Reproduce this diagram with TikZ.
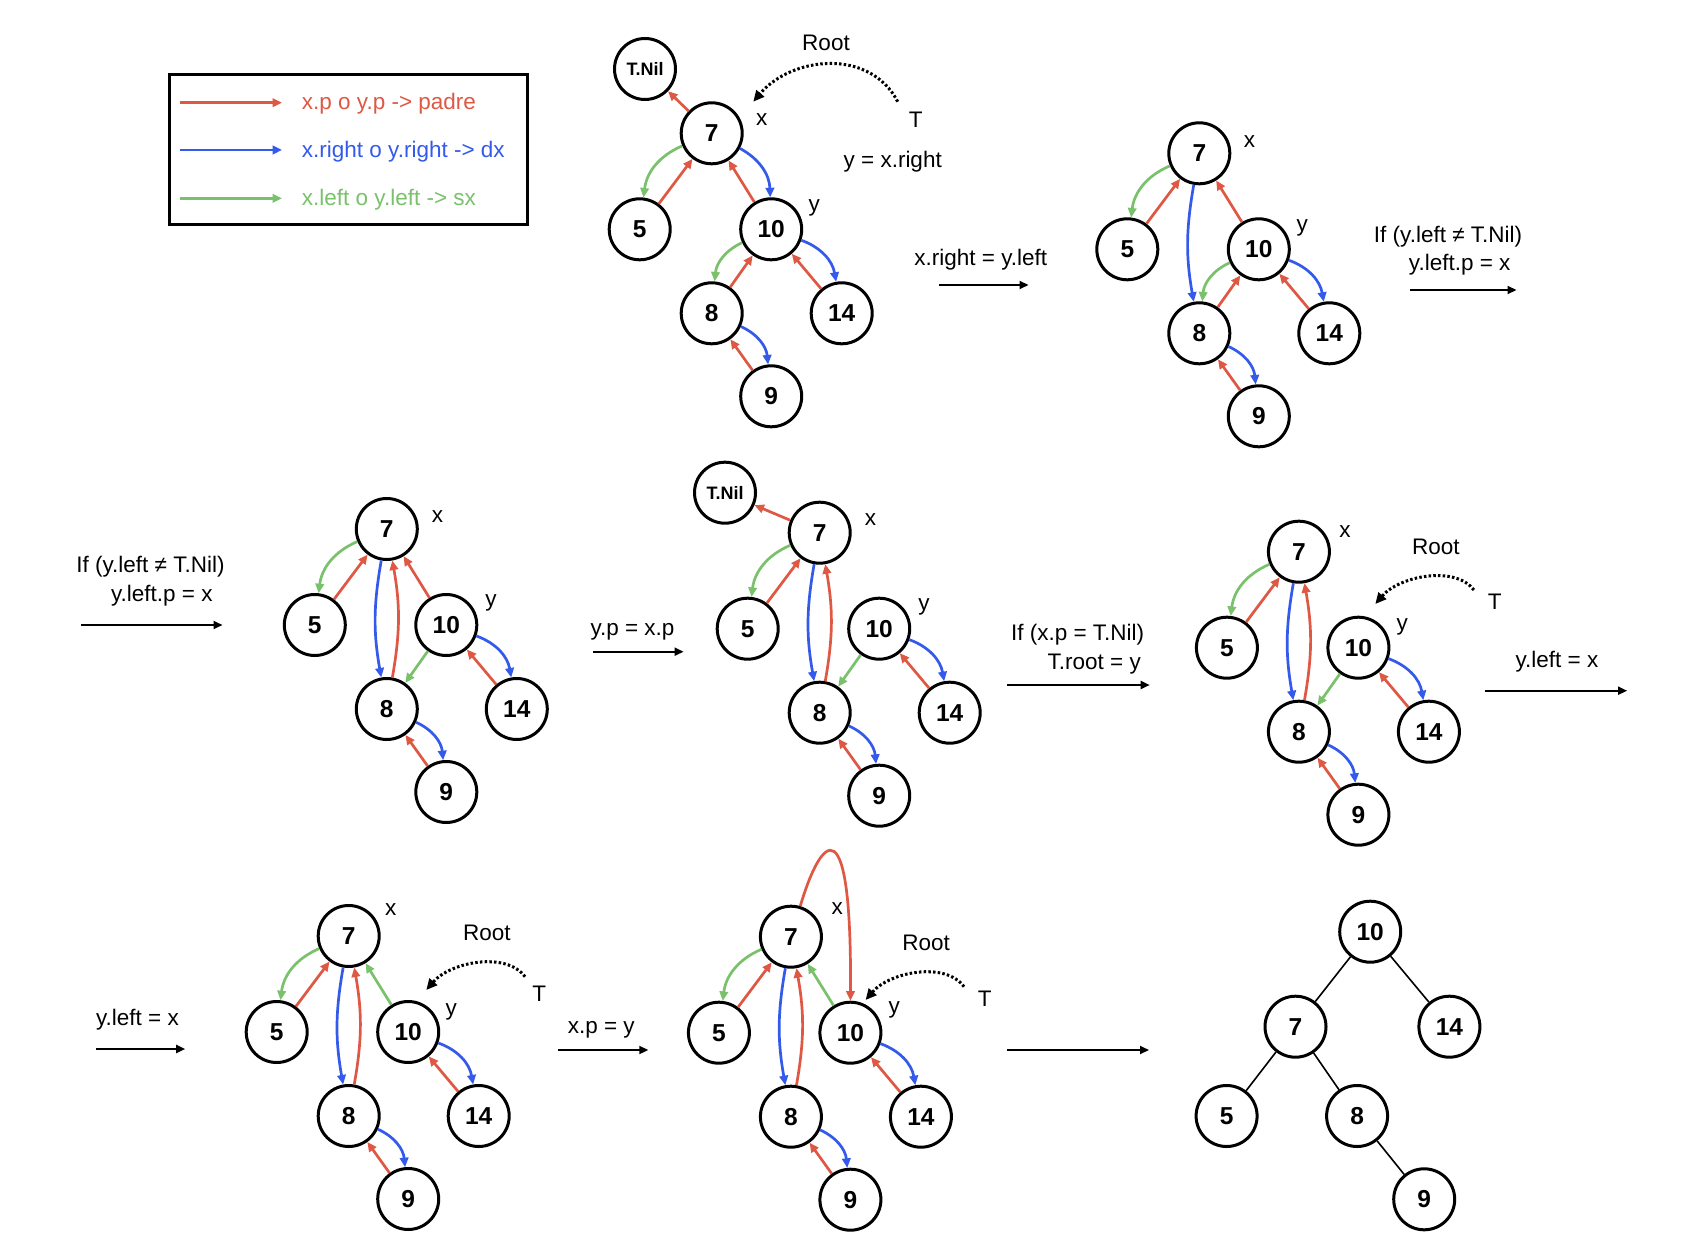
\documentclass[tikz,border=0pt]{standalone}
\usepackage{fontspec}
\setmainfont{Liberation Sans}
\usetikzlibrary{arrows.meta,calc}
\definecolor{cred}{RGB}{222,88,68}
\definecolor{cblue}{RGB}{52,90,235}
\definecolor{cgreen}{RGB}{122,193,108}
\newcommand\lblfont{\fontsize{22.5}{27}\selectfont}
\newcommand\ndfont{\fontsize{24.5}{28}\selectfont\bfseries}
\newcommand\nilfont{\fontsize{18}{21}\selectfont\bfseries}
\newcommand\mktree[3]{%
\begin{scope}[shift={(#2,#3)}]
\node[nd] (#17) at (0,0) {7};
\node[nd] (#15) at (-72,96) {5};
\node[nd] (#110) at (59.5,96) {10};
\node[nd] (#18) at (0,180) {8};
\node[nd] (#114) at (130,180) {14};
\node[nd] (#19) at (59.5,263) {9};
\end{scope}}
\tikzset{
 nd/.style={circle, draw=black, line width=3pt, minimum size=61pt, inner sep=0pt, font=\ndfont},
 rd/.style={draw=cred, line width=2.7pt, -{Triangle[length=9.5pt,width=8.5pt]}},
 bl/.style={draw=cblue, line width=2.7pt, -{Triangle[length=9.5pt,width=8.5pt]}},
 gr/.style={draw=cgreen, line width=2.7pt, -{Triangle[length=9.5pt,width=8.5pt]}},
 tr/.style={draw=black, line width=2pt, -{Triangle[length=9pt,width=8pt]}},
 dt/.style={draw=black, line width=3pt, dash pattern=on 2.5pt off 2.2pt, -{Triangle[length=11pt,width=10pt]}},
 lab/.style={font=\lblfont, inner sep=0pt, text=black},
 plain/.style={draw=black, line width=1.6pt},
}
\begin{document}
\begin{tikzpicture}[x=1pt,y=-1pt]
\fill[white] (0,0) rectangle (1708,1246);
\useasboundingbox (0,0) rectangle (1708,1246);

% ---------- legend ----------
\node[draw=black, line width=3pt, minimum width=358pt, minimum height=149.7pt, inner sep=0pt] (legend) at (348.8,149.7) {};
\coordinate (l1a) at (180,102.7); \coordinate (l1b) at (282,102.7);
\coordinate (l2a) at (180,150); \coordinate (l2b) at (282,150);
\coordinate (l3a) at (180,198.3); \coordinate (l3b) at (282,198.3);
\draw[rd] (l1a) -- (l1b);
\draw[bl] (l2a) -- (l2b);
\draw[gr] (l3a) -- (l3b);
\node[lab, anchor=west, text=cred] (l1t) at (301.7,104) {x.p o y.p -> padre};
\node[lab, anchor=west, text=cblue] (l2t) at (301.7,151.5) {x.right o y.right -> dx};
\node[lab, anchor=west, text=cgreen] (l3t) at (301.7,200) {x.left o y.left -> sx};

% ---------- tree A ----------
\mktree{a}{711.7}{133.3}
\node[nd, font=\nilfont] (anil) at (645,69) {T.Nil};
\draw[rd] (a7) -- (anil);
\draw[gr] (a7) to[bend right=30] (a5);
\draw[rd] (a5) -- (a7);
\draw[bl] (a7) to[bend left=30] (a10);
\draw[rd] (a10) -- (a7);
\draw[gr] (a10) to[bend right=30] (a8);
\draw[rd] (a8) -- (a10);
\draw[bl] (a10) to[bend left=30] (a14);
\draw[rd] (a14) -- (a10);
\draw[bl] (a8) to[bend left=30] (a9);
\draw[rd] (a9) -- (a8);
\node[lab] (ax) at (761.7,120) {x};
\node[lab] (ay) at (814.3,208.3) {y};
\node[lab] (aroot) at (826,43.3) {Root};
\node[lab] (aT) at (915.7,119.3) {T};
\coordinate (aTs) at (897.7,101.7); \coordinate (aTe) at (753.3,101.7);
\draw[dt] (aTs) .. controls (870,48) and (792,56) .. (aTe);
\node[lab] (ayx) at (892.7,161.7) {y = x.right};

\node[lab] (t1l) at (980.8,259.3) {x.right = y.left};
\coordinate (t1a) at (939.4,285); \coordinate (t1b) at (1028.5,285);
\draw[tr] (t1a) -- (t1b);

% ---------- tree B ----------
\mktree{b}{1199.3}{153.3}
\draw[gr] (b7) to[bend right=30] (b5);
\draw[rd] (b5) -- (b7);
\draw[bl] (b7) to[bend right=10] (b8);
\draw[rd] (b10) -- (b7);
\draw[gr] (b10) to[bend right=30] (b8);
\draw[rd] (b8) -- (b10);
\draw[bl] (b10) to[bend left=30] (b14);
\draw[rd] (b14) -- (b10);
\draw[bl] (b8) to[bend left=30] (b9);
\draw[rd] (b9) -- (b8);
\node[lab] (bx) at (1249.5,141.7) {x};
\node[lab] (by) at (1302.2,227.7) {y};

\node[lab] (t2l1) at (1448,236.7) {If (y.left ≠ T.Nil)};
\node[lab] (t2l2) at (1459.7,265) {y.left.p = x};
\coordinate (t2a) at (1410,290); \coordinate (t2b) at (1516.5,290);
\draw[tr] (t2a) -- (t2b);

% ---------- row 2 left text ----------
\node[lab] (t3l1) at (150.4,566.7) {If (y.left ≠ T.Nil)};
\node[lab] (t3l2) at (161.8,596) {y.left.p = x};
\coordinate (t3a) at (81.4,625); \coordinate (t3b) at (222.5,625);
\draw[tr] (t3a) -- (t3b);

% ---------- tree C ----------
\mktree{c}{386.8}{529}
\draw[gr] (c7) to[bend right=30] (c5);
\draw[rd] (c5) -- (c7);
\draw[bl] (c7) to[bend right=10] (c8);
\draw[rd] (c8) to[bend right=10] (c7);
\draw[rd] (c10) -- (c7);
\draw[gr] (c10) -- (c8);
\draw[bl] (c10) to[bend left=30] (c14);
\draw[rd] (c14) -- (c10);
\draw[bl] (c8) to[bend left=30] (c9);
\draw[rd] (c9) -- (c8);
\node[lab] (cx) at (437.5,516.7) {x};
\node[lab] (cy) at (491,602.7) {y};

\node[lab] (t4l) at (632.5,631.7) {y.p = x.p};
\coordinate (t4a) at (593,651.7); \coordinate (t4b) at (683.6,651.7);
\draw[tr] (t4a) -- (t4b);

% ---------- tree D ----------
\mktree{d}{819.7}{532.7}
\node[nd, font=\nilfont] (dnil) at (725,492.7) {T.Nil};
\draw[rd] (d7) -- (dnil);
\draw[gr] (d7) to[bend right=30] (d5);
\draw[rd] (d5) -- (d7);
\draw[bl] (d7) to[bend right=10] (d8);
\draw[rd] (d8) to[bend right=10] (d7);
\draw[gr] (d10) -- (d8);
\draw[bl] (d10) to[bend left=30] (d14);
\draw[rd] (d14) -- (d10);
\draw[bl] (d8) to[bend left=30] (d9);
\draw[rd] (d9) -- (d8);
\node[lab] (dx) at (870.4,520) {x};
\node[lab] (dy) at (924,606.7) {y};

\node[lab] (t5l1) at (1077.6,635) {If (x.p = T.Nil)};
\node[lab] (t5l2) at (1094.2,664.3) {T.root = y};
\coordinate (t5a) at (1007.3,685); \coordinate (t5b) at (1149.7,685);
\draw[tr] (t5a) -- (t5b);

% ---------- tree E ----------
\mktree{e}{1298.9}{551.7}
\draw[gr] (e7) to[bend right=30] (e5);
\draw[rd] (e5) -- (e7);
\draw[bl] (e7) to[bend right=10] (e8);
\draw[rd] (e8) to[bend right=10] (e7);
\draw[gr] (e10) -- (e8);
\draw[bl] (e10) to[bend left=30] (e14);
\draw[rd] (e14) -- (e10);
\draw[bl] (e8) to[bend left=30] (e9);
\draw[rd] (e9) -- (e8);
\node[lab] (ex) at (1345,531.7) {x};
\node[lab] (ey) at (1402.2,626.7) {y};
\node[lab] (eroot) at (1435.9,547.3) {Root};
\node[lab] (eT) at (1494.8,601.7) {T};
\coordinate (eTs) at (1473.9,590); \coordinate (eTe) at (1375.3,604);
\draw[dt] (eTs) .. controls ($(eTe)+(79.7,-39)$) and ($(eTe)+(24,-28)$) .. (eTe);

\node[lab] (t6l) at (1557,661.7) {y.left = x};
\coordinate (t6a) at (1484.7,690.7); \coordinate (t6b) at (1627.1,690.7);
\draw[tr] (t6a) -- (t6b);

% ---------- row 3 left text ----------
\node[lab] (t7l) at (137.4,1020) {y.left = x};
\coordinate (t7a) at (96.1,1049); \coordinate (t7b) at (185.2,1049);
\draw[tr] (t7a) -- (t7b);

% ---------- tree F ----------
\mktree{f}{348.7}{936}
\draw[gr] (f7) to[bend right=30] (f5);
\draw[rd] (f5) -- (f7);
\draw[bl] (f7) to[bend right=10] (f8);
\draw[rd] (f8) to[bend right=10] (f7);
\draw[gr] (f10) -- (f7);
\draw[bl] (f10) to[bend left=30] (f14);
\draw[rd] (f14) -- (f10);
\draw[bl] (f8) to[bend left=30] (f9);
\draw[rd] (f9) -- (f8);
\node[lab] (fx) at (390.8,910) {x};
\node[lab] (fy) at (451.2,1011.7) {y};
\node[lab] (froot) at (486.8,933.3) {Root};
\node[lab] (fT) at (539.2,993.3) {T};
\coordinate (fTs) at (525,976.7); \coordinate (fTe) at (426.3,990);
\draw[dt] (fTs) .. controls ($(fTe)+(79.7,-39)$) and ($(fTe)+(24,-28)$) .. (fTe);

\node[lab] (t8l) at (601.2,1030) {x.p = y};
\coordinate (t8a) at (558.4,1050); \coordinate (t8b) at (648.3,1050);
\draw[tr] (t8a) -- (t8b);

% ---------- tree G ----------
\mktree{g}{790.9}{936.7}
\draw[gr] (g7) to[bend right=30] (g5);
\draw[rd] (g5) -- (g7);
\draw[bl] (g7) to[bend right=10] (g8);
\draw[rd] (g8) to[bend right=10] (g7);
\draw[gr] (g10) -- (g7);
\draw[rd] (g7.73) .. controls (822,833) and (852,805) .. (g10.north);
\draw[bl] (g10) to[bend left=30] (g14);
\draw[rd] (g14) -- (g10);
\draw[bl] (g8) to[bend left=30] (g9);
\draw[rd] (g9) -- (g8);
\node[lab] (gx) at (837.3,908.3) {x};
\node[lab] (gy) at (894.2,1010) {y};
\node[lab] (groot) at (926.2,943.3) {Root};
\node[lab] (gT) at (984.7,998.3) {T};
\coordinate (gTs) at (964,986.7); \coordinate (gTe) at (865.6,1000);
\draw[dt] (gTs) .. controls ($(gTe)+(79.7,-39)$) and ($(gTe)+(24,-28)$) .. (gTe);

\coordinate (t9a) at (1007,1050); \coordinate (t9b) at (1149,1050);
\draw[tr] (t9a) -- (t9b);

% ---------- tree H (result) ----------
\node[nd] (h10) at (1370.2,931.7) {10};
\node[nd] (h7) at (1295.5,1026.7) {7};
\node[nd] (h14) at (1449.4,1026.7) {14};
\node[nd] (h5) at (1226.6,1116) {5};
\node[nd] (h8) at (1357.1,1116) {8};
\node[nd] (h9) at (1424.2,1199.3) {9};
\draw[plain] (h10) -- (h7);
\draw[plain] (h10) -- (h14);
\draw[plain] (h7) -- (h5);
\draw[plain] (h7) -- (h8);
\draw[plain] (h8) -- (h9);
\end{tikzpicture}
\end{document}
